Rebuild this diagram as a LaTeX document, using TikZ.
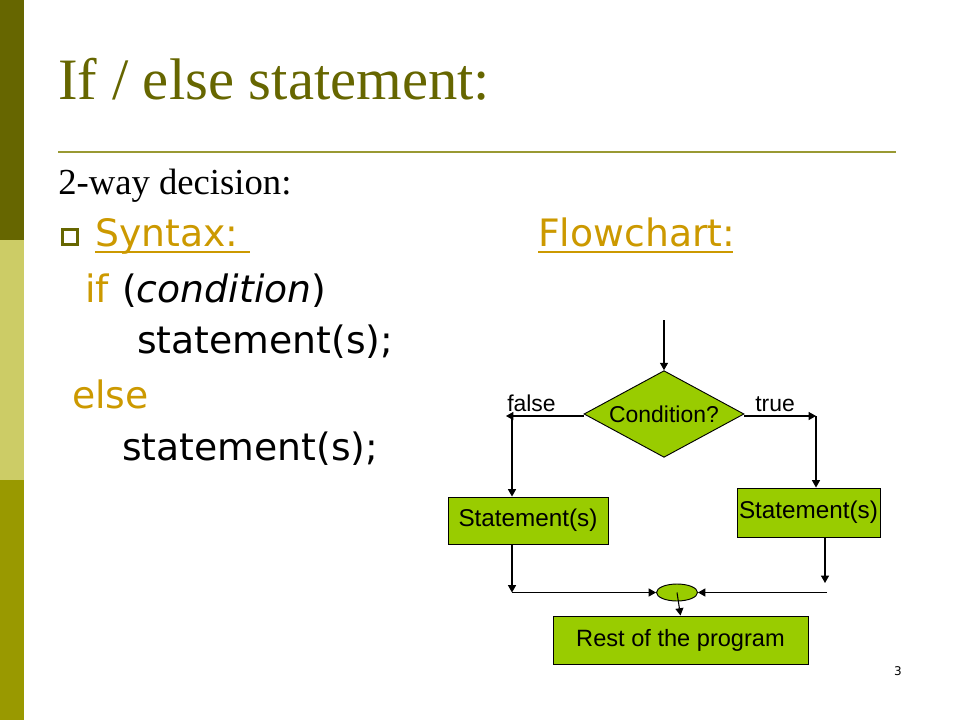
\documentclass[tikz,border=0pt]{standalone}
\usepackage{fontspec}
\setmainfont{DejaVu Sans}
\newfontfamily\titlefont{Liberation Serif}
\newfontfamily\chartfont{Liberation Sans}
\usetikzlibrary{positioning, arrows.meta, shapes.geometric}
\definecolor{olivedark}{HTML}{666600}
\definecolor{olivemid}{HTML}{999900}
\definecolor{olivelight}{HTML}{CCCC66}
\definecolor{rulecol}{HTML}{999933}
\definecolor{linkcol}{HTML}{CC9900}
\definecolor{chartgreen}{HTML}{99CC00}

\begin{document}
\begin{tikzpicture}[
    x=0.75pt, y=-0.75pt,
    >={Triangle[length=5.5pt, width=6pt]},
    codetxt/.style={anchor=base west, inner sep=0pt, font=\fontsize{28.3}{32}\selectfont},
    linktxt/.style={codetxt, text=linkcol},
    flowbox/.style={draw, rectangle, fill=chartgreen, inner sep=0pt, line width=0.7pt, font=\chartfont\fontsize{18.2}{20}\selectfont},
    decision/.style={draw, diamond, fill=chartgreen, inner sep=0pt, line width=0.7pt, shape aspect=1.9, minimum width=120pt, minimum height=65pt, font=\chartfont\fontsize{17.2}{20}\selectfont},
    junction/.style={draw, ellipse, fill=chartgreen, inner sep=0pt, line width=0.7pt, minimum width=30.75pt, minimum height=12.75pt},
    branchtxt/.style={anchor=base west, inner sep=0pt, font=\chartfont\fontsize{17.2}{20}\selectfont},
    flowarrow/.style={->, line width=0.8pt}
]
\useasboundingbox (0,0) rectangle (960,720);

% ==========================================
% Side bars & heading
% ==========================================
\fill[olivedark] (0,0) rectangle (24,240);
\fill[olivelight] (0,240) rectangle (24,480);
\fill[olivemid] (0,480) rectangle (24,720);

\node[anchor=base west, inner sep=0pt, text=olivedark, font=\titlefont\fontsize{44}{48}\selectfont] (title) at (58,100) {If / else statement:};
\draw[rulecol, line width=2.2pt] (58,152) -- (896,152);
\node[anchor=base west, inner sep=0pt, font=\titlefont\fontsize{27.5}{30}\selectfont] (subtitle) at (58,195) {2-way decision:};

% ==========================================
% Syntax
% ==========================================
\draw[olivedark, line width=2.25pt] (62.5,229.5) rectangle (77.5,244.5);
\node[linktxt] (syntax) at (95,247) {Syntax:};
\draw[linkcol, line width=1.3pt] (95,252) -- (250,252);
\node[linktxt] (flowhead) at (538,247) {Flowchart:};
\draw[linkcol, line width=1.3pt] (538,252) -- (733,252);

\node[linktxt] (kwif) at (85,302) {if};
\node[codetxt] (condtxt) at (122,302) {(\textit{condition})};
\node[codetxt] (stmtA) at (137,353) {statement(s);};
\node[linktxt] (kwelse) at (72,408) {else};
\node[codetxt] (stmtB) at (122,460) {statement(s);};

% ==========================================
% Flowchart
% ==========================================
\node[decision] (cond) at (664,414) {Condition?};
\node[flowbox, minimum width=120pt, minimum height=35.25pt] (stmtF) at (528,520.5) {Statement(s)};
\node[flowbox, minimum width=107.25pt, minimum height=36.75pt] (stmtT) at (808.5,512.5) {Statement(s)};
\node[junction] (join) at (677,592.5) {};
\node[flowbox, minimum width=191.25pt, minimum height=36pt, font=\chartfont\fontsize{17.7}{20}\selectfont] (rest) at (680.5,640) {Rest of the program};

\node[branchtxt] (lblfalse) at (507,411) {false};
\node[branchtxt] (lbltrue) at (755,411) {true};

\coordinate (entry) at (664,320);
\coordinate (falseEnd) at (506,416);
\coordinate (falseTurn) at (512,416);
\coordinate (trueEnd) at (816,416);
\coordinate (trueTurn) at (816,416);
\coordinate (leftDrop) at (512,592.5);
\coordinate (rightDrop) at (825,583);
\coordinate (rightStart) at (827,592.5);

% Branches
\draw[flowarrow] (entry) -- (cond.north);
\draw[flowarrow] (cond.west |- falseEnd) -- (falseEnd);
\draw[flowarrow] (falseTurn) -- (falseTurn |- stmtF.north);
\draw[flowarrow] (cond.east |- trueEnd) -- (trueEnd);
\draw[flowarrow] (trueTurn) -- (trueTurn |- stmtT.north);

% Merge
\draw[flowarrow] (leftDrop |- stmtF.south) -- (leftDrop);
\draw[flowarrow] (leftDrop) -- (join.west);
\draw[flowarrow] (rightDrop |- stmtT.south) -- (rightDrop);
\draw[flowarrow] (rightStart) -- (join.east);
\draw[flowarrow] (join.center) -- (rest.north);

% Page number
\node[anchor=base, inner sep=0pt, font=\fontsize{9}{10}\selectfont] (pagenum) at (898,675) {3};
\end{tikzpicture}
\end{document}
